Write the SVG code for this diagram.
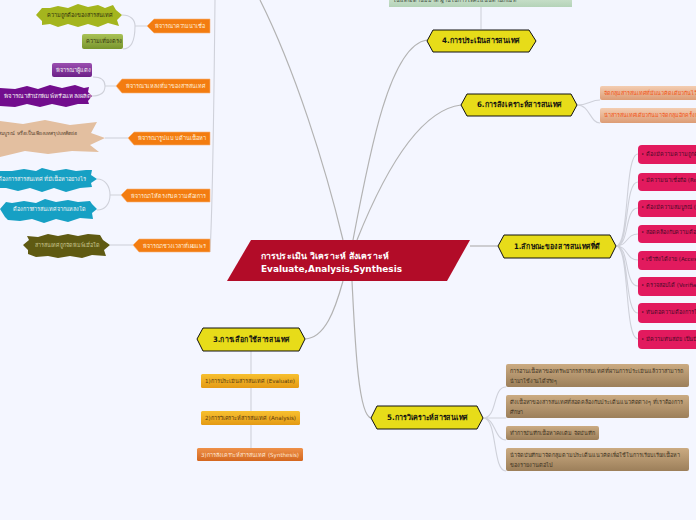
<svg xmlns="http://www.w3.org/2000/svg" width="696" height="520" viewBox="0 0 696 520">
<style>
text{font-family:"DejaVu Sans","Noto Sans","Liberation Sans",sans-serif}
.c1{fill:none;stroke:#b3b3b3;stroke-width:1.2}
.c2{fill:none;stroke:#cfd1da;stroke-width:1.1}
.hex{fill:#e7dc19;stroke:#111;stroke-width:1}
.ht{font-size:7.5px;font-weight:bold;fill:#111;text-anchor:middle}
.tag{fill:#f37c10;stroke:#f7b27a;stroke-width:.6}
.tt{font-size:5.6px;fill:#fff0dc;text-anchor:middle}
.pk{fill:#e21a5e}
.pt{font-size:5.5px;fill:#4a0a28}
.br{fill:url(#gb)}
.bt{font-size:5.6px;fill:#3f3423}
.pc{fill:url(#gp)}
.pct{font-size:5.4px;fill:#f2551a}
.wt{font-size:5.6px;fill:#f2f2f2;text-anchor:middle}
.dt{font-size:5.6px;fill:#33330f;text-anchor:middle}
</style>
<defs>
<linearGradient id="gb" x1="0" y1="0" x2="0" y2="1"><stop offset="0" stop-color="#cbab82"/><stop offset="1" stop-color="#9c7f5a"/></linearGradient>
<linearGradient id="gp" x1="0" y1="0" x2="0" y2="1"><stop offset="0" stop-color="#f3cdb2"/><stop offset="1" stop-color="#dd9c75"/></linearGradient>
<linearGradient id="gy" x1="0" y1="0" x2="0" y2="1"><stop offset="0" stop-color="#f7c030"/><stop offset="1" stop-color="#e49a14"/></linearGradient>
<linearGradient id="go" x1="0" y1="0" x2="0" y2="1"><stop offset="0" stop-color="#ee9048"/><stop offset="1" stop-color="#d4671f"/></linearGradient>
<linearGradient id="gg" x1="0" y1="0" x2="0" y2="1"><stop offset="0" stop-color="#a9c257"/><stop offset="1" stop-color="#78952c"/></linearGradient>
<linearGradient id="gv" x1="0" y1="0" x2="0" y2="1"><stop offset="0" stop-color="#9a4fb0"/><stop offset="1" stop-color="#6c1f88"/></linearGradient>
<linearGradient id="gn" x1="0" y1="0" x2="0" y2="1"><stop offset="0" stop-color="#e2efe0"/><stop offset="1" stop-color="#b4d3b8"/></linearGradient>
</defs>
<rect width="696" height="520" fill="#f4f6ff"/>
<g id="connectors">
<path class="c1" d="M260 0C295 70 325 165 343 240"/>
<path class="c1" d="M353 240C370 150 390 45 427 40"/>
<path class="c1" d="M357 240C385 170 420 110 461 105"/>
<path class="c1" d="M470 246H498"/>
<path class="c1" d="M352 281C355 340 358 415 371 418"/>
<path class="c1" d="M343 281C335 310 325 338 305 339"/>
<path class="c2" d="M481 7V29"/>
<path class="c2" stroke-width="1.6" d="M215 0C214 100 213 200 210 252"/>
<path class="c2" d="M147 26H135M122 15C131 15 135 20 135 26C135 38 132 49 123 49"/>
<path class="c2" d="M116 86H105M93 77C101 77 105 80 105 86C105 92 101 96 92 96"/>
<path class="c2" d="M128 138H105"/>
<path class="c2" d="M121 195H110M97 179C105 179 110 186 110 195C110 204 105 210 97 210"/>
<path class="c2" d="M133 245H110"/>
<path class="c2" d="M577 105C590 105 590 100 600 100M577 105C590 105 590 123 600 123"/>
<path class="c2" d="M616 246C630 246 624 154 638 154M616 246C630 246 624 182 638 182M616 246C630 246 624 208 638 208M616 246C628 246 626 234 638 234M616 246C628 246 626 260 638 260M616 246C630 246 624 286 638 286M616 246C630 246 624 313 638 313M616 246C630 246 624 339 638 339"/>
<path class="c2" d="M483 418C498 418 492 387 506 387M483 418H506M483 418C496 418 494 440 506 440M483 418C498 418 492 471 506 471"/>
<path class="c2" d="M251 351V374M251 388V411M251 425V448"/>
</g>
<g id="center"><polygon points="251,240 470,240 447,281 227,281" fill="#b20c28"/>
<text x="261" y="259" font-size="8.5" font-weight="bold" fill="#fff" textLength="128" lengthAdjust="spacingAndGlyphs">การประเมิน วิเคราะห์ สังเคราะห์</text>
<text x="261" y="272" font-size="8.5" font-weight="bold" fill="#fff" textLength="141" lengthAdjust="spacingAndGlyphs">Evaluate,Analysis,Synthesis</text></g>
<g id="n4"><polygon class="hex" points="427,41 433,30 529,30 536,41 529,52 433,52"/><text class="ht" x="481" y="43" textLength="78" lengthAdjust="spacingAndGlyphs">4.การประเมินสารสนเทศ</text></g>
<g id="n6"><polygon class="hex" points="461,105 467,94 571,94 577,105 571,116 467,116"/><text class="ht" x="519.5" y="107" textLength="85" lengthAdjust="spacingAndGlyphs">6.การสังเคราะห์สารสนเทศ</text></g>
<g id="n1"><polygon class="hex" points="498,246 504,235 610,235 616,246 610,258 504,258"/><text class="ht" x="557" y="249" textLength="86" lengthAdjust="spacingAndGlyphs">1.ลักษณะของสารสนเทศที่ดี</text></g>
<g id="n5"><polygon class="hex" points="371,418 377,406 477,406 483,418 477,429 377,429"/><text class="ht" x="427.5" y="420" textLength="81" lengthAdjust="spacingAndGlyphs">5.การวิเคราะห์สารสนเทศ</text></g>
<g id="n3"><polygon class="hex" points="197,339 203,328 299,328 305,339 299,351 203,351"/><text class="ht" x="251.5" y="342" textLength="77" lengthAdjust="spacingAndGlyphs">3.การเลือกใช้สารสนเทศ</text></g>
<g id="top"><rect x="389" y="-12" width="183" height="19" fill="url(#gn)"/><text x="393" y="2" font-size="5.5" fill="#3a4a3a" textLength="124" lengthAdjust="spacingAndGlyphs">ในแต่ละด้านมีมาตรฐานในการให้คะแนนตามเกณฑ์</text></g>
<g id="t1"><polygon class="tag" points="147,26 154,19 210,19 210,33 154,33"/><text class="tt" x="180" y="28" textLength="50" lengthAdjust="spacingAndGlyphs">พิจารณาความน่าเชื่อ</text></g>
<g id="t2"><polygon class="tag" points="116,86 122,79 210,79 210,93 122,93"/><text class="tt" x="166" y="88" textLength="80" lengthAdjust="spacingAndGlyphs">พิจารณาแหล่งที่มาของสารสนเทศ</text></g>
<g id="t3"><polygon class="tag" points="128,138 134,132 210,132 210,145 134,145"/><text class="tt" x="172" y="140" textLength="68" lengthAdjust="spacingAndGlyphs">พิจารณารูปแบบด้านเนื้อหา</text></g>
<g id="t4"><polygon class="tag" points="121,195 127,189 210,189 210,202 127,202"/><text class="tt" x="168.500" y="198" textLength="75" lengthAdjust="spacingAndGlyphs">พิจารณาให้ตรงกับความต้องการ</text></g>
<g id="t5"><polygon class="tag" points="133,245 139,239 210,239 210,252 139,252"/><text class="tt" x="174.500" y="248" textLength="63" lengthAdjust="spacingAndGlyphs">พิจารณาช่วงเวลาที่เผยแพร่</text></g>
<g id="b1"><polygon fill="#a4b51e" points="36,15 42,8 50,8 58,6 68,8 78,4 88,7 98,5 105,8 113,5 116,10 122,15 117,20 119,26 108,23 98,27 88,24 78,27 68,24 58,27 50,24 42,25 42,21"/><text class="dt" x="80" y="17" textLength="66" lengthAdjust="spacingAndGlyphs">ความถูกต้องของสารสนเทศ</text></g>
<g id="b2"><rect x="82" y="34" width="41" height="15" rx="2" fill="url(#gg)"/><text class="dt" x="104" y="43" textLength="36" lengthAdjust="spacingAndGlyphs">ความเที่ยงตรง</text></g>
<g id="b3"><rect x="52" y="63" width="40" height="14" rx="2" fill="url(#gv)"/><text class="wt" x="73" y="72" textLength="35" lengthAdjust="spacingAndGlyphs">พิจารณาผู้แต่ง</text></g>
<g id="b4"><polygon fill="#720d8d" points="-4,96 0,88 15,89 27,86 38,89 50,85 62,88 75,85 84,88 89,87 88,92 92,96 88,101 89,104 78,104 66,107 52,104 40,107 27,104 15,107 0,106"/><text class="wt" x="47.500" y="98" textLength="87" lengthAdjust="spacingAndGlyphs">พิจารณาสำนักพิมพ์หรือแหล่งผลิต</text></g>
<g id="b5"><polygon fill="#e3bfa0" points="0,121 23,124 45,120 70,125 97,122 91,133 105,138 90,145 99,152 72,151 48,154 25,151 0,157"/><text x="77" y="135" font-size="5.1" fill="#5a4430" text-anchor="end">ฉบับสมบูรณ์ หรือเป็นเพียงบทสรุปบทคัดย่อ</text></g>
<g id="b6"><polygon fill="#16a0c4" points="-4,179 0,171 12,171 24,169 36,171 42,168 54,171 66,169 76,171 86,170 92,170 91,175 97,179 91,183 92,187 80,188 66,192 54,188 42,192 30,188 18,191 6,188 -2,188"/><text class="wt" x="42" y="181" textLength="88" lengthAdjust="spacingAndGlyphs">ต้องการสารสนเทศที่มีเนื้อหาอย่างไร</text></g>
<g id="b7"><polygon fill="#16a0c4" points="0,209 6,202 12,203 24,201 36,203 45,199 56,202 68,200 78,202 90,201 92,204 97,209 92,213 93,219 80,218 68,222 56,219 44,223 32,219 20,221 8,220 5,217"/><text class="wt" x="49.500" y="211" textLength="73" lengthAdjust="spacingAndGlyphs">ต้องการสารสนเทศจากแหล่งใด</text></g>
<g id="b8"><polygon fill="#5f5a12" points="23,245 29,240 27,236 38,237 48,234 58,236 68,234 78,236 88,234 100,235 103,240 110,245 104,250 106,256 92,255 82,258 70,256 58,258 48,256 36,257 28,254 28,250"/><text x="67.500" y="247" font-size="5.6" fill="#c8c48c" text-anchor="middle" textLength="65" lengthAdjust="spacingAndGlyphs">สารสนเทศถูกจัดพิมพ์เมื่อใด</text></g>
<g id="p1"><rect class="pc" x="600" y="86" width="110" height="14" rx="2"/><text class="pct" x="604" y="95">จัดกลุ่มสารสนเทศที่มีแนวคิดเดียวกันไว้ด้วยกัน</text></g>
<g id="p2"><rect class="pc" x="600" y="108" width="110" height="15" rx="2"/><text class="pct" x="604" y="117">นำสารสนเทศเดียวกันมาจัดกลุ่มอีกครั้งหนึ่ง</text></g>
<g id="k1"><rect class="pk" x="638" y="145" width="70" height="19" rx="4"/><text class="pt" x="641" y="156">• ต้องมีความความถูกต้อง</text></g>
<g id="k2"><rect class="pk" x="638" y="173" width="70" height="18" rx="4"/><text class="pt" x="641" y="182">• มีความน่าเชื่อถือ (Reliable)</text></g>
<g id="k3"><rect class="pk" x="638" y="200" width="70" height="17" rx="4"/><text class="pt" x="641" y="209">• ต้องมีความสมบูรณ์ (Complete)</text></g>
<g id="k4"><rect class="pk" x="638" y="225" width="70" height="18" rx="4"/><text class="pt" x="641" y="234">• สอดคล้องกับความต้องการ</text></g>
<g id="k5"><rect class="pk" x="638" y="251" width="70" height="19" rx="4"/><text class="pt" x="641" y="261">• เข้าถึงได้ง่าย (Accessible)</text></g>
<g id="k6"><rect class="pk" x="638" y="277" width="70" height="19" rx="4"/><text class="pt" x="641" y="287">• ตรวจสอบได้ (Verifiable)</text></g>
<g id="k7"><rect class="pk" x="638" y="303" width="70" height="20" rx="4"/><text class="pt" x="641" y="314">• ทันต่อความต้องการใช้</text></g>
<g id="k8"><rect class="pk" x="638" y="330" width="70" height="19" rx="4"/><text class="pt" x="641" y="341">• มีความทันสมัย เป็นปัจจุบัน</text></g>
<g id="r1"><rect class="br" x="506" y="364" width="183" height="23" rx="2"/><text class="bt" x="510" y="373" textLength="173" lengthAdjust="spacingAndGlyphs">การอ่านเนื้อหาของทรัพยากรสารสนเทศที่ผ่านการประเมินแล้วว่าสามารถ</text><text class="bt" x="510" y="383" textLength="47" lengthAdjust="spacingAndGlyphs">นำมาใช้งานได้จริงๆ</text></g>
<g id="r2"><rect class="br" x="506" y="395" width="183" height="23" rx="2"/><text class="bt" x="510" y="404" textLength="173" lengthAdjust="spacingAndGlyphs">ดึงเนื้อหาของสารสนเทศที่สอดคล้องกับประเด็นแนวคิดต่างๆ ที่เราต้องการ</text><text class="bt" x="510" y="414" textLength="13" lengthAdjust="spacingAndGlyphs">ศึกษา</text></g>
<g id="r3"><rect class="br" x="506" y="426" width="93" height="14" rx="2"/><text class="bt" x="510" y="435" textLength="85" lengthAdjust="spacingAndGlyphs">ทำการบันทึกเนื้อหาคงเดิม จัดบันทึก</text></g>
<g id="r4"><rect class="br" x="506" y="448" width="183" height="23" rx="2"/><text class="bt" x="510" y="457" textLength="170" lengthAdjust="spacingAndGlyphs">นำจัดบันทึกมาจัดกลุ่มตามประเด็นแนวคิดเพื่อใช้ในการเรียบเรียงเนื้อหา</text><text class="bt" x="510" y="467" textLength="43" lengthAdjust="spacingAndGlyphs">ของรายงานต่อไป</text></g>
<g id="y1"><rect x="201" y="374" width="98" height="14" rx="1.5" fill="url(#gy)"/><text x="250" y="383" font-size="5.6" fill="#5a3a10" text-anchor="middle" textLength="90" lengthAdjust="spacingAndGlyphs">1)การประเมินสารสนเทศ (Evaluate)</text></g>
<g id="y2"><rect x="201" y="411" width="99" height="14" rx="1.5" fill="url(#gy)"/><text x="250.500" y="420" font-size="5.6" fill="#5a3a10" text-anchor="middle" textLength="91" lengthAdjust="spacingAndGlyphs">2)การวิเคราะห์สารสนเทศ (Analysis)</text></g>
<g id="y3"><rect x="197" y="448" width="106" height="13" rx="1.5" fill="url(#go)"/><text x="250" y="457" font-size="5.6" fill="#ffe7d4" text-anchor="middle" textLength="98" lengthAdjust="spacingAndGlyphs">3)การสังเคราะห์สารสนเทศ (Synthesis)</text></g>
</svg>
